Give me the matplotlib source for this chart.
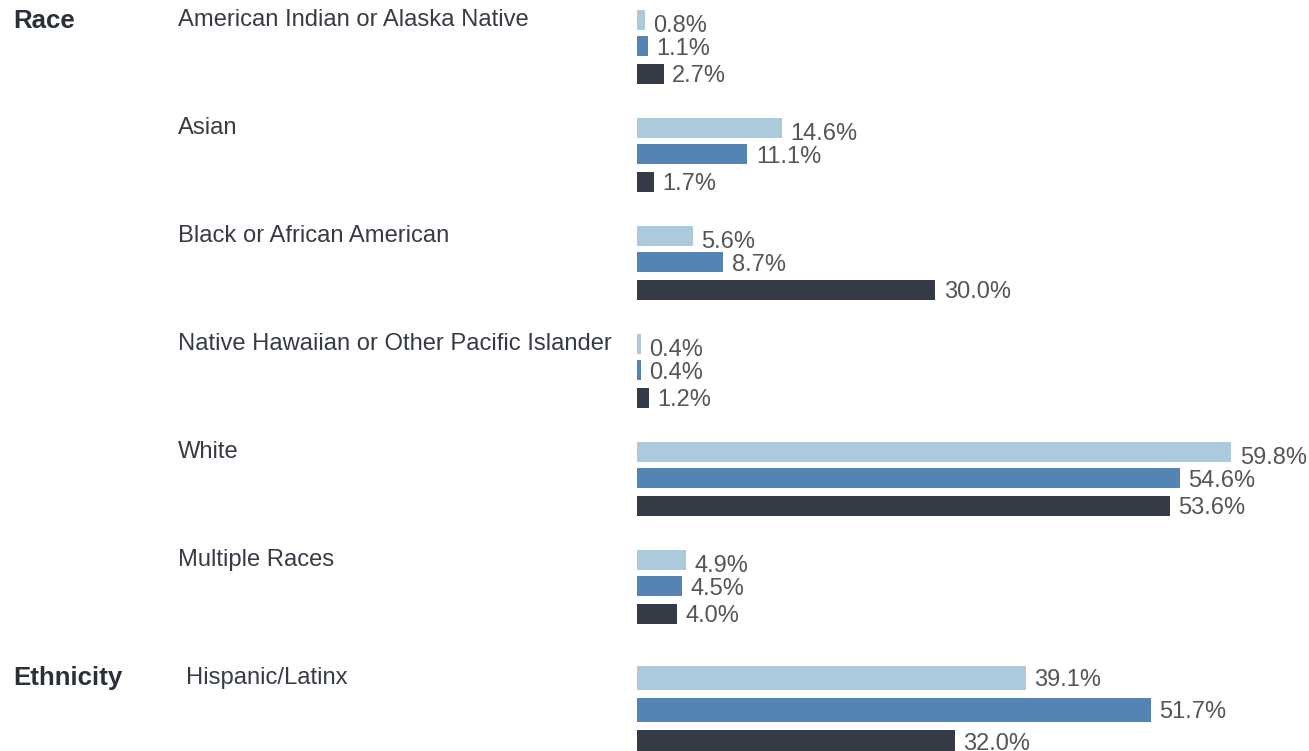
import matplotlib.pyplot as plt

plt.rcParams['font.family'] = ['Liberation Sans', 'DejaVu Sans']

# data (percent)
race_labels = ["American Indian or Alaska Native", "Asian", "Black or African American",
               "Native Hawaiian or Other Pacific Islander", "White", "Multiple Races"]
race_s1 = [0.8, 14.6, 5.6, 0.4, 59.8, 4.9]
race_s2 = [1.1, 11.1, 8.7, 0.4, 54.6, 4.5]
race_s3 = [2.7, 1.7, 30.0, 1.2, 53.6, 4.0]

eth_labels = ["Hispanic/Latinx"]
eth_s1 = [39.1]
eth_s2 = [51.7]
eth_s3 = [32.0]

colors = ["#abcbdc", "#5384b3", "#343a46"]

W, H = 1309, 751
fig = plt.figure(figsize=(W / 100, H / 100), dpi=100)
# axes in pixel-like y coordinates, x in percent starting at bar origin
x0 = 637
px_per_pct = 9.94
ax = fig.add_axes([x0 / W, 0, 1 - x0 / W, 1])
ax.set_xlim(0, (W - x0) / px_per_pct)
ax.set_ylim(H, 0)
ax.axis("off")

# race block
race_top = 20
race_step = 108
race_offsets = [0, 26, 54]
race_lbl_shift = [6, 3, 2]
for i, lab in enumerate(race_labels):
    base = race_top + race_step * i
    for j, vals in enumerate([race_s1, race_s2, race_s3]):
        y = base + race_offsets[j]
        ax.barh(y, vals[i], height=20, color=colors[j], edgecolor="none")
        ax.text(vals[i] + 0.85, y + race_lbl_shift[j], f"{vals[i]:.1f}%", ha="left", va="center",
                fontsize=17, color="#555555")
    fig.text(178 / W, 1 - base / H, lab, ha="left", va="center",
             fontsize=17.1, color="#363b45")

# ethnicity block
eth_top = 678
eth_offsets = [0, 32, 64]
for i, lab in enumerate(eth_labels):
    base = eth_top
    for j, vals in enumerate([eth_s1, eth_s2, eth_s3]):
        y = base + eth_offsets[j]
        ax.barh(y, vals[i], height=24, color=colors[j], edgecolor="none")
        ax.text(vals[i] + 0.85, y + 1.5, f"{vals[i]:.1f}%", ha="left", va="center",
                fontsize=17, color="#555555")
    fig.text(186 / W, 1 - base / H, lab, ha="left", va="center",
             fontsize=17.1, color="#363b45")

fig.text(13 / W, 1 - 21 / H, "Race", ha="left", va="center", fontsize=18.6,
         fontweight="bold", color="#2b2f38")
fig.text(13 / W, 1 - 678 / H, "Ethnicity", ha="left", va="center", fontsize=18.6,
         fontweight="bold", color="#2b2f38")

fig.savefig("out.png", dpi=100)
